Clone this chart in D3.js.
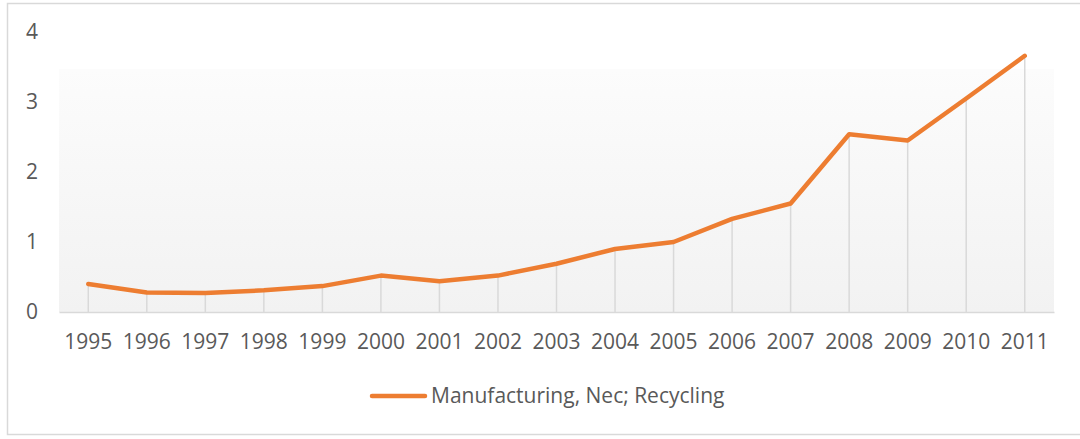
<!DOCTYPE html>
<html>
<head>
<meta charset="utf-8">
<script src="https://cdn.jsdelivr.net/npm/d3@7"></script>
<style>
  body { margin: 0; background: #fff; }
  text { font-family: "Open Sans", sans-serif; fill: #595959; }
</style>
</head>
<body>
<div id="chart"></div>
<script>
// Data
const years = [1995, 1996, 1997, 1998, 1999, 2000, 2001, 2002, 2003, 2004, 2005, 2006, 2007, 2008, 2009, 2010, 2011];
const values = [0.40, 0.28, 0.27, 0.31, 0.37, 0.52, 0.44, 0.52, 0.69, 0.90, 1.00, 1.33, 1.55, 2.54, 2.45, 3.05, 3.66];
const yTicks = [0, 1, 2, 3, 4];
const seriesName = "Manufacturing, Nec; Recycling";

const W = 1080, H = 439;
const svg = d3.select("#chart").append("svg").attr("width", W).attr("height", H);

// Chart border
svg.append("rect")
  .attr("x", 7.5).attr("y", 3.5)
  .attr("width", W).attr("height", 431)
  .attr("fill", "#fff")
  .attr("stroke", "#d9d9d9")
  .attr("stroke-width", 1.5);

const margin = { left: 59, right: 26, top: 32, bottom: 127 };
const plotBottom = H - margin.bottom;

const x = d3.scaleBand().domain(years).range([margin.left, W - margin.right]);
const y = d3.scaleLinear().domain([0, 4]).range([plotBottom, margin.top]);

// Plot area gradient
const grad = svg.append("defs").append("linearGradient")
  .attr("id", "bg").attr("x1", 0).attr("y1", 0).attr("x2", 0).attr("y2", 1);
grad.append("stop").attr("offset", "0%").attr("stop-color", "#fcfcfc");
grad.append("stop").attr("offset", "100%").attr("stop-color", "#f2f2f2");

svg.append("rect")
  .attr("x", margin.left).attr("y", 69)
  .attr("width", W - margin.right - margin.left)
  .attr("height", plotBottom - 69)
  .attr("fill", "url(#bg)");

const cx = (d) => x(d) + x.bandwidth() / 2;

// Drop lines
svg.append("g").selectAll("line")
  .data(years)
  .join("line")
  .attr("x1", cx).attr("x2", cx)
  .attr("y1", (d, i) => y(values[i]))
  .attr("y2", plotBottom)
  .attr("stroke", "#d9d9d9")
  .attr("stroke-width", 1.5);

// X axis baseline and labels
const xAxis = svg.append("g")
  .attr("transform", `translate(0,${plotBottom})`)
  .call(d3.axisBottom(x).tickSize(0).tickPadding(22));
xAxis.select(".domain").attr("stroke", "#d9d9d9").attr("stroke-width", 1.5);
xAxis.selectAll("text").attr("font-size", 21).attr("fill", "#595959")
  .attr("font-family", "Open Sans, sans-serif");

// Y axis labels
const yAxis = svg.append("g")
  .attr("transform", `translate(38,0)`)
  .call(d3.axisLeft(y).tickValues(yTicks).tickFormat(d3.format("d")).tickSize(0).tickPadding(0));
yAxis.select(".domain").remove();
yAxis.selectAll("text").attr("font-size", 21).attr("fill", "#595959")
  .attr("font-family", "Open Sans, sans-serif");

// Series line
const line = d3.line()
  .x((d, i) => cx(years[i]))
  .y((d) => y(d));

svg.append("path")
  .datum(values)
  .attr("fill", "none")
  .attr("stroke", "#ed7d31")
  .attr("stroke-width", 4.5)
  .attr("stroke-linejoin", "round")
  .attr("stroke-linecap", "round")
  .attr("d", line);

// Legend
const legend = svg.append("g").attr("transform", "translate(372,396)");
legend.append("line")
  .attr("x1", 0).attr("x2", 53)
  .attr("stroke", "#ed7d31").attr("stroke-width", 4.5)
  .attr("stroke-linecap", "round");
legend.append("text")
  .attr("x", 59).attr("dy", "0.35em")
  .attr("font-size", 21)
  .text(seriesName);
</script>
</body>
</html>
